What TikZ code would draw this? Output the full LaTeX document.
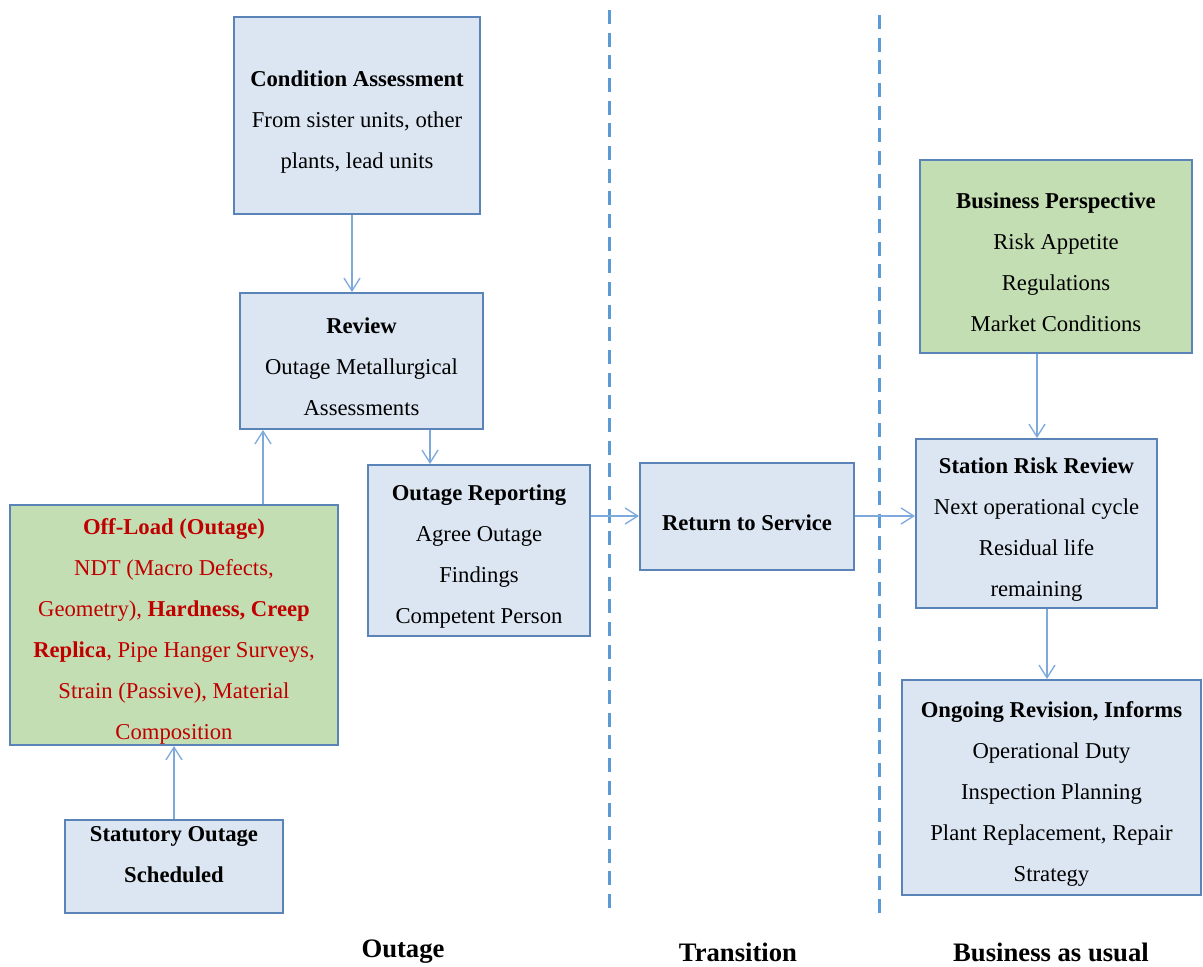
\documentclass[tikz,border=0pt]{standalone}
\usepackage{fontspec}
\setmainfont{Liberation Serif}
\usetikzlibrary{arrows.meta}
\definecolor{boxfill}{HTML}{DCE6F2}
\definecolor{greenfill}{HTML}{C4DEB3}
\definecolor{boxline}{HTML}{5A84B8}
\definecolor{arrowc}{HTML}{7EA9DC}
\definecolor{dashc}{HTML}{5B9BD5}
\definecolor{redtext}{HTML}{C00000}
\newcommand\firstln{\rule{0pt}{21pt}}
\begin{document}
\begin{tikzpicture}[x=0.75pt,y=-0.75pt,
 box/.style={draw=boxline, line width=1.5pt, fill=boxfill, align=center, inner sep=0pt,
   font=\fontsize{17}{30.75}\selectfont},
 gbox/.style={box, fill=greenfill},
 sz/.style 2 args={minimum width=#1*0.75pt, minimum height=#2*0.75pt},
 arr/.style={draw=arrowc, line width=1pt, -{Straight Barb[length=9.5pt,width=12pt]}},
 sep/.style={draw=dashc, line width=2.25pt, dash pattern=on 10.5pt off 6.5pt},
 phase/.style={font=\fontsize{20}{24}\selectfont\bfseries}]
\useasboundingbox (0,0) rectangle (1203,967);

% separators
\coordinate (s1t) at (609,10);
\coordinate (s1b) at (609,910);
\coordinate (s2t) at (879,15);
\coordinate (s2b) at (879,915);
\draw[sep] (s1t) -- (s1b);
\draw[sep] (s2t) -- (s2b);

% boxes
\node[box, sz={246}{197}] (cond) at (357,115.5)
  {\firstln{\bfseries Condition Assessment}\\From sister units, other\\plants, lead units};
\node[box, sz={243}{136}] (review) at (361.5,361)
  {\firstln{\bfseries Review}\\Outage Metallurgical\\Assessments};
\node[gbox, sz={328}{240}, text=redtext] (offload) at (174,625)
  {\firstln{\bfseries Off-Load (Outage)}\\NDT (Macro Defects,\\Geometry), {\bfseries Hardness, Creep}\\{\bfseries Replica}, Pipe Hanger Surveys,\\Strain (Passive), Material\\Composition};
\node[box, sz={218}{93}] (stat) at (174,866.5)
  {{\bfseries Statutory Outage}\\{\bfseries Scheduled}\\[-12.75pt]\mbox{}};
\node[box, sz={222}{171}] (report) at (479,550.5)
  {\firstln{\bfseries Outage Reporting}\\Agree Outage\\Findings\\Competent Person};
\node[box, sz={214}{107}] (ret) at (747,516.5)
  {\firstln{\bfseries Return to Service}};
\node[gbox, sz={272}{193}] (biz) at (1056,256.5)
  {\firstln{\bfseries Business Perspective}\\Risk Appetite\\Regulations\\Market Conditions};
\node[box, sz={241}{169}] (station) at (1036.5,523.5)
  {\firstln{\bfseries Station Risk Review}\\Next operational cycle\\Residual life\\remaining};
\node[box, sz={299}{215}] (ongoing) at (1051.5,787.5)
  {\firstln{\bfseries Ongoing Revision, Informs}\\Operational Duty\\Inspection Planning\\Plant Replacement, Repair\\Strategy};

% connectors
\draw[arr] (cond.south -| 352,0) -- (review.north -| 352,0);
\draw[arr] (offload.north -| 263,0) -- (review.south -| 263,0);
\draw[arr] (review.south -| 430,0) -- (report.north -| 430,0);
\draw[arr] (stat.north) -- (offload.south);
\draw[arr] (report.east |- 0,516) -- (ret.west |- 0,516);
\draw[arr] (ret.east |- 0,516) -- (station.west |- 0,516);
\draw[arr] (biz.south -| 1037,0) -- (station.north -| 1037,0);
\draw[arr] (station.south -| 1047,0) -- (ongoing.north -| 1047,0);

% phase labels
\node[phase] (l1) at (403,952) {Outage};
\node[phase] (l2) at (738,952) {Transition};
\node[phase] (l3) at (1051,952) {Business as usual};
\end{tikzpicture}
\end{document}
